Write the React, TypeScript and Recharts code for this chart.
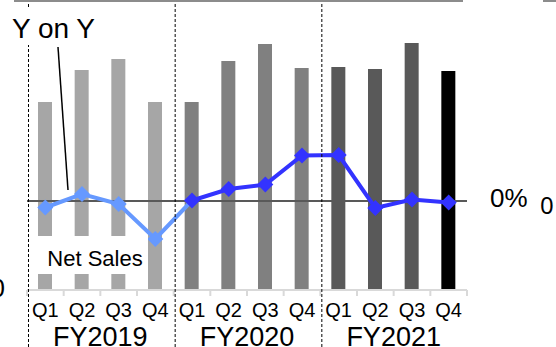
import React from "react";
import { ComposedChart, Bar, Line, XAxis, YAxis, Cell, ReferenceLine } from "recharts";

const QUARTERS = ["Q1", "Q2", "Q3", "Q4", "Q1", "Q2", "Q3", "Q4", "Q1", "Q2", "Q3", "Q4"];
const YEARS = ["FY2019", "FY2019", "FY2019", "FY2019", "FY2020", "FY2020", "FY2020", "FY2020", "FY2021", "FY2021", "FY2021", "FY2021"];
const NET_SALES = [1880, 2200, 2310, 1880, 1880, 2290, 2460, 2220, 2230, 2210, 2470, 2190];
const YOY = [-1.3, 1.4, -0.6, -7.6, 0.1, 2.4, 3.3, 9.1, 9.2, -1.4, 0.3, -0.3];
const BAR_COLORS: Record<string, string> = { FY2019: "#a6a6a6", FY2020: "#808080", FY2021: "#595959" };

const W = 556;
const H = 347;
// y axes are 1px wide each (recharts skips ticks on 0-width axes)
const M = { top: 0, right: 88, bottom: 0, left: 26 };
const AXIS_H = 57;
const BAND = (W - M.left - M.right - 2) / QUARTERS.length;
const FONT = "'Liberation Sans', Arial, sans-serif";

const data = QUARTERS.map((q, i) => ({
  key: `${YEARS[i]}-${q}`,
  q,
  year: YEARS[i],
  sales: NET_SALES[i],
  yoyOld: i <= 4 ? YOY[i] : null,
  yoyNew: i >= 4 ? YOY[i] : null,
}));

const QuarterTick = (props: any) => {
  const { x, y, index } = props;
  const left = x - BAND / 2;
  return (
    <g>
      <text x={x} y={y + 26.5} textAnchor="middle" fontSize={20} fontFamily={FONT} fill="#000">
        {QUARTERS[index]}
      </text>
      <line x1={left} x2={left} y1={y} y2={y + 6} stroke="#d9d9d9" strokeWidth={2} />
      {index === QUARTERS.length - 1 && (
        <line x1={x + BAND / 2} x2={x + BAND / 2} y1={y} y2={y + 6} stroke="#d9d9d9" strokeWidth={2} />
      )}
      {index % 4 === 1 && (
        <text x={x + BAND / 2} y={y + 56} textAnchor="middle" fontSize={27} fontFamily={FONT} fill="#000">
          {YEARS[index]}
        </text>
      )}
      {index % 4 === 0 && (
        <line x1={left + 1.5} x2={left + 1.5} y1={y - 286} y2={y + 57} stroke="#000" strokeWidth={1} strokeDasharray="3 2" />
      )}
    </g>
  );
};

const PctTick = (props: any) => {
  const { x, y } = props;
  return (
    <g>
      <text x={x + 23} y={y + 6} fontSize={26} fontFamily={FONT} fill="#000">0%</text>
      <text x={x + 73} y={y + 13} fontSize={24} fontFamily="'Noto Sans', sans-serif" fill="#000">0</text>
    </g>
  );
};

const SalesTick = (props: any) => {
  const { y } = props;
  return (
    <text x={5} y={y + 7} textAnchor="end" fontSize={26} fontFamily={FONT} fill="#000">0</text>
  );
};

const diamond = (color: string, last: number) => (props: any) => {
  const { cx, cy, index, value } = props;
  if (value == null || cx == null || index > last) return <g key={index} />;
  const r = 8;
  return (
    <polygon
      key={index}
      points={`${cx},${cy - r} ${cx + r},${cy} ${cx},${cy + r} ${cx - r},${cy}`}
      fill={color}
    />
  );
};

export default function App() {
  return (
    <div style={{ position: "absolute", left: 0, top: 0, width: W, height: H, background: "#fff" }}>
      <ComposedChart width={W} height={H} data={data} margin={M}>
        <XAxis
          dataKey="key"
          height={AXIS_H}
          interval={0}
          tickSize={0}
          tickMargin={0}
          tickLine={false}
          axisLine={{ stroke: "#d9d9d9", strokeWidth: 2 }}
          tick={<QuarterTick />}
        />
        <YAxis yAxisId="sales" domain={[0, 2900]} ticks={[0]} width={1} interval={0} axisLine={false}
          tickLine={false} tickSize={0} tickMargin={0} tick={<SalesTick />} />
        <YAxis yAxisId="pct" orientation="right" domain={[-17.8, 40.2]} ticks={[0]} width={1} interval={0}
          axisLine={false} tickLine={false} tickSize={0} tickMargin={0} tick={<PctTick />} />
        <Bar yAxisId="sales" dataKey="sales" barSize={14} isAnimationActive={false}>
          {data.map((d, i) => (
            <Cell key={i} fill={i === data.length - 1 ? "#000000" : BAR_COLORS[d.year]} />
          ))}
        </Bar>
        <ReferenceLine yAxisId="pct" y={0} stroke="#595959" strokeWidth={2} />
        <Line yAxisId="pct" dataKey="yoyOld" stroke="#6699ff" strokeWidth={4} connectNulls={false}
          dot={diamond("#6699ff", 3)} activeDot={false} isAnimationActive={false} />
        <Line yAxisId="pct" dataKey="yoyNew" stroke="#3333ff" strokeWidth={4} connectNulls={false}
          dot={diamond("#3333ff", 11)} activeDot={false} isAnimationActive={false} />
      </ComposedChart>
      {/* annotations layered over the plot */}
      <svg width={W} height={H} style={{ position: "absolute", left: 0, top: 0, pointerEvents: "none" }}>
        <line x1={14} y1={1} x2={463} y2={1} stroke="#8c8c8c" strokeWidth={2} />
        <line x1={543} y1={1} x2={556} y2={1} stroke="#8c8c8c" strokeWidth={2} />
        <rect x={8} y={9} width={94} height={36} fill="#fff" />
        <text x={12} y={38} fontSize={28} fontFamily={FONT} fill="#000">Y on Y</text>
        <line x1={58} y1={47} x2={68} y2={190} stroke="#000" strokeWidth={1.5} />
        <rect x={38} y={236} width={110} height={38} fill="#fff" />
        <text x={95} y={266} textAnchor="middle" fontSize={22} fontFamily={FONT} fill="#000">Net Sales</text>
      </svg>
    </div>
  );
}
